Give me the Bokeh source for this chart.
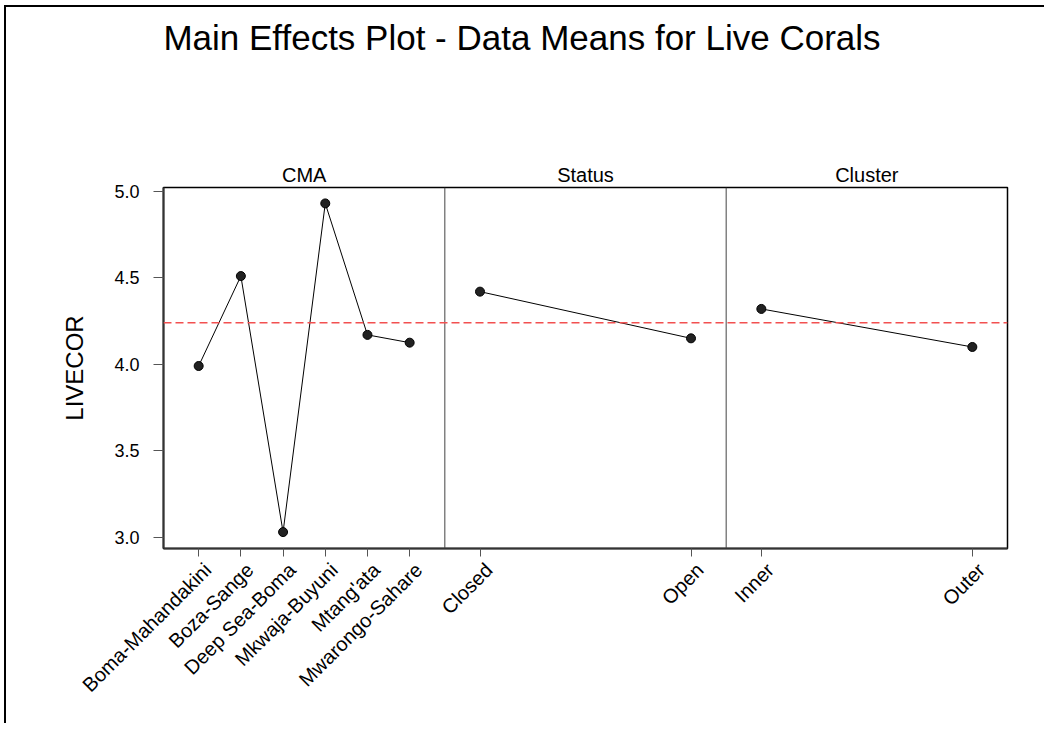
import math
from bokeh.plotting import figure
from bokeh.models import (Range1d, FixedTicker, Span, NumeralTickFormatter,
                          LinearAxis)
from bokeh.embed import file_html
from bokeh.resources import INLINE

# ---------------- data ----------------
title_text = "Main Effects Plot - Data Means for Live Corals"
y_label = "LIVECOR"
factor_names = ["CMA", "Status", "Cluster"]
cma_levels = ["Boma-Mahandakini", "Boza-Sange", "Deep Sea-Boma",
              "Mkwaja-Buyuni", "Mtang'ata", "Mwarongo-Sahare"]
cma_means = [3.99, 4.51, 3.03, 4.93, 4.17, 4.125]
status_levels = ["Closed", "Open"]
status_means = [4.42, 4.15]
cluster_levels = ["Inner", "Outer"]
cluster_means = [4.32, 4.10]
grand_mean = 4.24
y_ticks = [3.0, 3.5, 4.0, 4.5, 5.0]

# ---------------- layout ----------------
FONT = "Liberation Sans"
PAD = 0.125           # padding inside each panel (fraction of panel width)
Y0, Y1 = 2.935, 5.022
W, H = 1040, 718
FL, FR, FT, FB = 157, 1001, 180, 541   # frame edges (px in figure)
PXX = 3.0 / (FR - FL)                  # x data units per pixel
DX = 9 * PXX                           # small label shift to the right
TITLE_CX = round((515.5 - FL) * PXX, 6)  # title centre (over whole image)

p = figure(width=W, height=H, output_backend="svg", toolbar_location=None,
           x_range=Range1d(0, 3), y_range=Range1d(Y0, Y1),
           min_border_left=FL, min_border_right=W - FR,
           min_border_top=FT, min_border_bottom=H - FB,
           styles={"margin-left": "4px", "margin-top": "5px",
                   "border-left": "2px solid black",
                   "border-top": "2px solid black"})
p.xgrid.visible = False
p.ygrid.visible = False
p.outline_line_color = "black"
p.outline_line_width = 1.5

levels_all = [cma_levels, status_levels, cluster_levels]
means_all = [cma_means, status_means, cluster_means]

tick_pos, label_pos = [], []
overrides_blank, overrides = {}, {}
for k, (levels, means) in enumerate(zip(levels_all, means_all)):
    n = len(levels)
    xs = [round(k + PAD + (1 - 2 * PAD) * i / (n - 1), 6) for i in range(n)]
    p.line(xs, means, line_color="black", line_width=1)
    p.scatter(xs, means, size=9, fill_color="#222222", line_color="black")
    for x, lab in zip(xs, levels):
        tick_pos.append(x)
        overrides_blank[x] = ""
        lx = round(x + DX, 6)
        label_pos.append(lx)
        overrides[lx] = lab

for k in (1, 2):
    p.add_layout(Span(location=k, dimension="height", line_color="#444444", line_width=1))

p.add_layout(Span(location=grand_mean, dimension="width", line_color="#f25050",
                  line_width=1.5, line_dash="8 4"))

# x axis: ticks
xa = p.xaxis[0]
xa.ticker = FixedTicker(ticks=tick_pos)
xa.major_label_overrides = overrides_blank
xa.major_label_standoff = 0
xa.major_tick_out = 8
xa.major_tick_in = 0
xa.major_tick_line_color = "#555555"
xa.minor_tick_line_color = None
xa.axis_line_width = 2
xa.axis_line_color = "#333333"

# x axis: rotated level labels
xl = LinearAxis(ticker=FixedTicker(ticks=label_pos), major_label_overrides=overrides,
                axis_line_color=None, major_tick_line_color=None,
                minor_tick_line_color=None, major_tick_out=0, major_tick_in=0,
                major_label_orientation=math.pi / 4,
                major_label_text_font=FONT, major_label_text_font_size="20px",
                major_label_text_color="black", major_label_standoff=10)
p.add_layout(xl, "below")

# facet names above each panel
fa = LinearAxis(ticker=FixedTicker(ticks=[0.5, 1.5, 2.5]),
                major_label_overrides={0.5: factor_names[0], 1.5: factor_names[1],
                                       2.5: factor_names[2]},
                axis_line_color=None, major_tick_line_color=None,
                minor_tick_line_color=None, major_tick_out=0, major_tick_in=0,
                major_label_text_font=FONT, major_label_text_font_size="20px",
                major_label_text_color="black", major_label_standoff=2)
p.add_layout(fa, "above")

# main title (as a single label on an invisible top axis, centred over the image)
ta = LinearAxis(ticker=FixedTicker(ticks=[TITLE_CX]),
                major_label_overrides={TITLE_CX: title_text},
                axis_line_color=None, major_tick_line_color=None,
                minor_tick_line_color=None, major_tick_out=0, major_tick_in=0,
                major_label_text_font=FONT, major_label_text_font_size="35px",
                major_label_text_color="black", major_label_standoff=104)
p.add_layout(ta, "above")

# y axis
ya = p.yaxis[0]
ya.ticker = FixedTicker(ticks=y_ticks)
ya.formatter = NumeralTickFormatter(format="0.0")
ya.major_label_text_font = FONT
ya.major_label_text_font_size = "18px"
ya.major_label_text_color = "black"
ya.major_label_standoff = 14
ya.major_tick_out = 10
ya.major_tick_in = 0
ya.major_tick_line_color = "#555555"
ya.minor_tick_line_color = None
ya.axis_line_width = 2
ya.axis_line_color = "#333333"
ya.axis_label = y_label
ya.axis_label_text_font = FONT
ya.axis_label_text_font_size = "24px"
ya.axis_label_text_font_style = "normal"
ya.axis_label_text_color = "black"
ya.axis_label_standoff = 23

open("out.html", "w").write(file_html(p, INLINE))
